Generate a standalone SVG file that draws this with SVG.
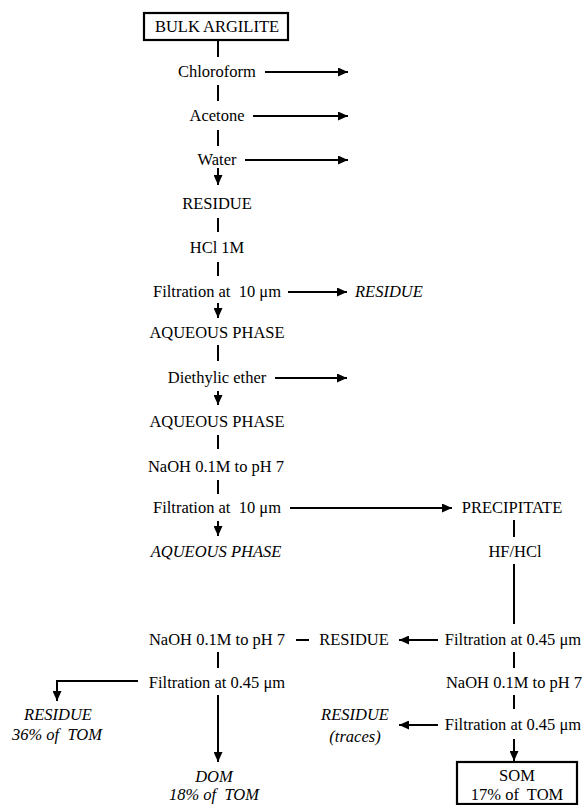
<svg xmlns="http://www.w3.org/2000/svg" width="584" height="805" viewBox="0 0 584 805">
  <style>
    text { font-family: "Liberation Serif", "Times New Roman", serif; font-size: 16.5px; fill: #000; }
    .c { text-anchor: middle; }
    .i { font-style: italic; }
    .ln { stroke: #000; stroke-width: 2; fill: none; }
    .box { stroke: #000; stroke-width: 2.2; fill: #fff; }
  </style>
  <defs>
    <marker id="ah" markerUnits="userSpaceOnUse" markerWidth="10" markerHeight="9" refX="10" refY="4.5" orient="auto">
      <path d="M0,0 L10,4.5 L0,9 z" fill="#000"/>
    </marker>
  </defs>

  <!-- connectors -->
  <g id="connectors" class="ln">
    <line x1="218" y1="40" x2="218" y2="57"/>
    <line x1="265" y1="72" x2="348" y2="72" marker-end="url(#ah)"/>
    <line x1="218" y1="85" x2="218" y2="101"/>
    <line x1="253" y1="116" x2="348" y2="116" marker-end="url(#ah)"/>
    <line x1="218" y1="130" x2="218" y2="146"/>
    <line x1="245" y1="160" x2="348" y2="160" marker-end="url(#ah)"/>
    <line x1="218" y1="168" x2="218" y2="185" marker-end="url(#ah)"/>
    <line x1="218" y1="218" x2="218" y2="232"/>
    <line x1="218" y1="262" x2="218" y2="276"/>
    <line x1="288" y1="292" x2="347" y2="292" marker-end="url(#ah)"/>
    <line x1="218" y1="303" x2="218" y2="318" marker-end="url(#ah)"/>
    <line x1="218" y1="345" x2="218" y2="361"/>
    <line x1="275" y1="378" x2="347" y2="378" marker-end="url(#ah)"/>
    <line x1="218" y1="391" x2="218" y2="405" marker-end="url(#ah)"/>
    <line x1="218" y1="435" x2="218" y2="449"/>
    <line x1="218" y1="480" x2="218" y2="494"/>
    <line x1="290" y1="508" x2="452" y2="508" marker-end="url(#ah)"/>
    <line x1="218" y1="521" x2="218" y2="536" marker-end="url(#ah)"/>
    <line x1="514" y1="520" x2="514" y2="537"/>
    <line x1="514" y1="564" x2="514" y2="624"/>
    <line x1="296" y1="640" x2="309" y2="640"/>
    <line x1="438" y1="640" x2="399" y2="640" marker-end="url(#ah)"/>
    <line x1="218" y1="652" x2="218" y2="668"/>
    <line x1="514" y1="652" x2="514" y2="668"/>
    <polyline points="138,681 57,681 57,701" marker-end="url(#ah)"/>
    <line x1="218" y1="695" x2="218" y2="762" marker-end="url(#ah)"/>
    <line x1="514" y1="695" x2="514" y2="709"/>
    <line x1="438" y1="725" x2="399" y2="725" marker-end="url(#ah)"/>
    <line x1="514" y1="739" x2="514" y2="761" marker-end="url(#ah)"/>
  </g>

  <!-- main column -->
  <g id="bulk">
    <rect class="box" x="144" y="13" width="144" height="27"/>
    <text class="c" x="217" y="32">BULK ARGILITE</text>
  </g>
  <g id="chloroform"><text class="c" x="217" y="77">Chloroform</text></g>
  <g id="acetone"><text class="c" x="217" y="121">Acetone</text></g>
  <g id="water"><text class="c" x="217" y="165">Water</text></g>
  <g id="residue1"><text class="c" x="217" y="209">RESIDUE</text></g>
  <g id="hcl"><text class="c" x="217" y="253">HCl 1M</text></g>
  <g id="filt1"><text class="c" x="217" y="297" xml:space="preserve">Filtration at  10 μm</text></g>
  <g id="residue2"><text class="i" x="355" y="297">RESIDUE</text></g>
  <g id="aq1"><text class="c" x="217" y="338">AQUEOUS PHASE</text></g>
  <g id="ether"><text class="c" x="217" y="383">Diethylic ether</text></g>
  <g id="aq2"><text class="c" x="217" y="427">AQUEOUS PHASE</text></g>
  <g id="naoh1"><text class="c" x="216" y="472">NaOH 0.1M to pH 7</text></g>
  <g id="filt2"><text class="c" x="217" y="513" xml:space="preserve">Filtration at  10 μm</text></g>
  <g id="precip"><text class="c" x="512" y="513">PRECIPITATE</text></g>
  <g id="aq3"><text class="c i" x="216" y="557">AQUEOUS PHASE</text></g>
  <g id="hfhcl"><text class="c" x="515" y="557">HF/HCl</text></g>

  <!-- lower section -->
  <g id="naoh2"><text class="c" x="217" y="645">NaOH 0.1M to pH 7</text></g>
  <g id="residue3"><text class="c" x="354" y="645">RESIDUE</text></g>
  <g id="filt3"><text class="c" x="513" y="645">Filtration at 0.45 μm</text></g>
  <g id="filt4"><text class="c" x="217" y="688">Filtration at 0.45 μm</text></g>
  <g id="naoh3"><text class="c" x="514" y="688">NaOH 0.1M to pH 7</text></g>
  <g id="residue4">
    <text class="c i" x="58" y="720">RESIDUE</text>
    <text class="c i" x="57" y="740" xml:space="preserve">36% of  TOM</text>
  </g>
  <g id="residue5">
    <text class="c i" x="355" y="720">RESIDUE</text>
    <text class="c i" x="355" y="742">(traces)</text>
  </g>
  <g id="filt5"><text class="c" x="513" y="730">Filtration at 0.45 μm</text></g>
  <g id="dom">
    <text class="c i" x="214" y="782">DOM</text>
    <text class="c i" x="214" y="800" xml:space="preserve">18% of  TOM</text>
  </g>
  <g id="som">
    <rect class="box" x="457" y="762" width="120" height="42"/>
    <text class="c" x="517" y="781">SOM</text>
    <text class="c" x="517" y="800" xml:space="preserve">17% of  TOM</text>
  </g>
</svg>
